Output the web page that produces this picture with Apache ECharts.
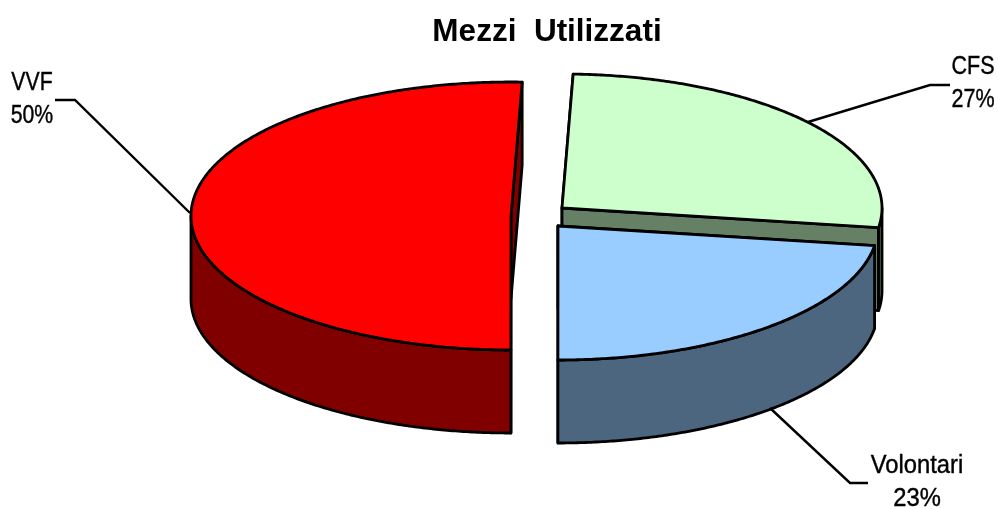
<!DOCTYPE html>
<html>
<head>
<meta charset="utf-8">
<title>Mezzi Utilizzati</title>
<script src="https://cdn.jsdelivr.net/npm/echarts@6/dist/echarts.min.js"></script>
<style>
html, body { margin: 0; padding: 0; background: #fff; }
#chart { width: 998px; height: 509px; }
</style>
</head>
<body>
<div id="chart"></div>
<script>
// drawn back to front: CFS, Volontari, VVF
const categories = ['CFS', 'Volontari', 'VVF']
const values = [26.7, 22.6, 50.4]

const topColors = ['#ccffcc', '#99ccff', '#ff0000']
const sideColors = ['#668066', '#4d6680', '#800000']

// pie shape, pixels
const radiusX = 320
const radiusY = 134
const depth = 83
const startAngle = 2 // degrees clockwise from the top
const centers = [[562, 208], [558, 226], [511, 216]]
// leader line and label of each slice
const leaders = [
    [[808, 122], [930, 85], [950, 85]],
    [[770, 408], [850, 483], [868, 483]],
    [[190, 213], [75, 100], [55, 100]],
]
const labelPos = [[973, 84], [917, 483], [32, 100]]
const labelSquash = [0.86, 0.95, 0.85] // no narrow font here, so squeeze the text

const total = values.reduce((a, b) => a + b, 0)
const rim = (c, deg, down) => {
    const t = deg * Math.PI / 180
    return [c[0] + radiusX * Math.sin(t), c[1] - radiusY * Math.cos(t) + (down || 0)]
}
const arcPoints = (c, from, to, down) => {
    const pts = []
    const steps = Math.max(2, Math.ceil((to - from) * 2))
    for (let i = 0; i <= steps; i++) {
        pts.push(rim(c, from + (to - from) * i / steps, down))
    }
    return pts
}
const face = (points, fill) => ({
    type: 'polygon',
    shape: { points },
    style: { fill, stroke: '#000', lineWidth: 2.8, lineJoin: 'round' },
})

const renderSlice = (params, api) => {
    const i = params.dataIndex
    const c = centers[i]
    let from = startAngle
    for (let k = 0; k < i; k++) from += values[k] / total * 360
    const to = from + api.value(0) / total * 360
    const children = []

    // two cut faces
    ;[from, to].forEach((a) => {
        children.push(face([c, rim(c, a), rim(c, a, depth), [c[0], c[1] + depth]], sideColors[i]))
    })
    // outer wall, only the part turned to the viewer
    const wallFrom = Math.max(from, 90)
    const wallTo = Math.min(to, 270)
    if (wallTo > wallFrom) {
        children.push(face(
            arcPoints(c, wallFrom, wallTo).concat(arcPoints(c, wallFrom, wallTo, depth).reverse()),
            sideColors[i]
        ))
    }
    // top
    children.push(face([c].concat(arcPoints(c, from, to)), topColors[i]))

    // leader line
    children.push({
        type: 'polyline',
        shape: { points: leaders[i] },
        style: { fill: null, stroke: '#000', lineWidth: 2.4 },
    })
    // label
    children.push({
        type: 'text',
        x: labelPos[i][0],
        y: labelPos[i][1],
        scaleX: labelSquash[i],
        style: {
            text: categories[i] + '\n' + Math.round(api.value(0)) + '%',
            fill: '#000',
            stroke: '#000',
            lineWidth: 0.4,
            font: '25px "Liberation Sans", sans-serif',
            lineHeight: 33,
            align: 'center',
            verticalAlign: 'middle',
        },
    })
    return { type: 'group', children }
}

const chart = echarts.init(document.getElementById('chart'))
chart.setOption({
    animation: false,
    title: {
        text: 'Mezzi  Utilizzati',
        left: 542,
        top: 11,
        textAlign: 'center',
        textStyle: {
            fontFamily: '"Liberation Sans", Arial, sans-serif',
            fontWeight: 'bold',
            fontSize: 31.5,
            color: '#000',
        },
    },
    series: [{
        type: 'custom',
        coordinateSystem: 'none',
        renderItem: renderSlice,
        data: values.map((v) => [v]),
    }],
})
</script>
</body>
</html>
